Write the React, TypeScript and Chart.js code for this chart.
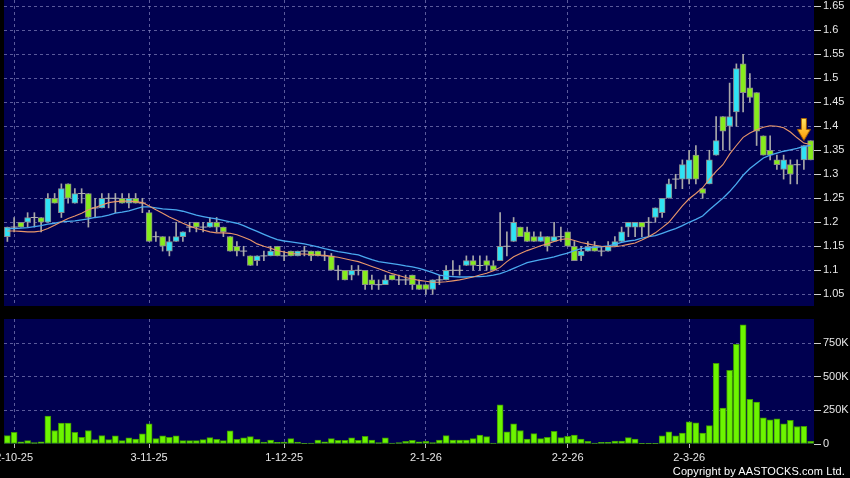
import React, { useEffect, useRef } from 'react';
import { Chart, registerables } from 'chart.js';

Chart.register(...registerables);

// ---------- data ----------
const opens = [
  1.17, 1.19, 1.20, 1.20, 1.21, 1.21, 1.20, 1.25, 1.22, 1.28,
  1.24, 1.26, 1.26, 1.23, 1.23, 1.25, 1.25, 1.25, 1.24, 1.25,
  1.24, 1.22, 1.17, 1.17, 1.14, 1.16, 1.17, 1.19, 1.20, 1.19,
  1.19, 1.20, 1.19, 1.17, 1.15, 1.14, 1.13, 1.12, 1.13, 1.13,
  1.15, 1.13, 1.14, 1.13, 1.14, 1.14, 1.14, 1.13, 1.13, 1.10,
  1.10, 1.09, 1.10, 1.10, 1.08, 1.07, 1.07, 1.09, 1.08, 1.08,
  1.09, 1.07, 1.07, 1.06, 1.08, 1.08, 1.10, 1.10, 1.11, 1.12,
  1.11, 1.12, 1.11, 1.12, 1.15, 1.16, 1.19, 1.18, 1.17, 1.16,
  1.17, 1.16, 1.17, 1.18, 1.15, 1.13, 1.14, 1.15, 1.14, 1.14,
  1.15, 1.16, 1.19, 1.19, 1.20, 1.20, 1.21, 1.22, 1.25, 1.29,
  1.29, 1.29, 1.34, 1.27, 1.28, 1.34, 1.42, 1.40, 1.43, 1.53,
  1.48, 1.47, 1.38, 1.35, 1.33, 1.31, 1.32, 1.32, 1.33, 1.37,
];
const highs = [
  1.19, 1.21, 1.20, 1.22, 1.22, 1.21, 1.26, 1.26, 1.28, 1.28,
  1.27, 1.27, 1.26, 1.25, 1.26, 1.26, 1.26, 1.26, 1.26, 1.26,
  1.25, 1.225, 1.18, 1.17, 1.17, 1.20, 1.18, 1.20, 1.20, 1.20,
  1.21, 1.21, 1.19, 1.17, 1.16, 1.15, 1.13, 1.13, 1.14, 1.15,
  1.15, 1.14, 1.14, 1.14, 1.15, 1.14, 1.14, 1.14, 1.135, 1.11,
  1.10, 1.11, 1.11, 1.10, 1.09, 1.08, 1.09, 1.09, 1.09, 1.09,
  1.09, 1.08, 1.07, 1.08, 1.09, 1.11, 1.12, 1.11, 1.13, 1.13,
  1.13, 1.13, 1.12, 1.22, 1.18, 1.21, 1.19, 1.19, 1.18, 1.18,
  1.17, 1.20, 1.19, 1.18, 1.16, 1.15, 1.16, 1.16, 1.15, 1.16,
  1.17, 1.19, 1.20, 1.20, 1.20, 1.21, 1.23, 1.25, 1.29, 1.30,
  1.33, 1.35, 1.36, 1.27, 1.35, 1.42, 1.42, 1.49, 1.53, 1.55,
  1.51, 1.47, 1.38, 1.38, 1.34, 1.34, 1.33, 1.33, 1.36, 1.37,
];
const lows = [
  1.16, 1.18, 1.19, 1.19, 1.19, 1.18, 1.20, 1.24, 1.21, 1.24,
  1.24, 1.24, 1.19, 1.21, 1.23, 1.23, 1.22, 1.24, 1.23, 1.24,
  1.22, 1.16, 1.16, 1.14, 1.13, 1.16, 1.16, 1.18, 1.18, 1.18,
  1.19, 1.18, 1.17, 1.14, 1.13, 1.13, 1.11, 1.11, 1.12, 1.13,
  1.13, 1.12, 1.13, 1.13, 1.13, 1.12, 1.13, 1.12, 1.10, 1.08,
  1.08, 1.08, 1.09, 1.06, 1.06, 1.06, 1.07, 1.08, 1.07, 1.07,
  1.06, 1.06, 1.05, 1.05, 1.07, 1.08, 1.09, 1.09, 1.11, 1.10,
  1.10, 1.10, 1.10, 1.12, 1.13, 1.16, 1.17, 1.16, 1.16, 1.16,
  1.14, 1.16, 1.16, 1.15, 1.12, 1.12, 1.14, 1.14, 1.13, 1.14,
  1.15, 1.16, 1.17, 1.17, 1.17, 1.17, 1.20, 1.21, 1.25, 1.27,
  1.27, 1.28, 1.28, 1.25, 1.28, 1.34, 1.35, 1.35, 1.40, 1.43,
  1.45, 1.36, 1.34, 1.33, 1.31, 1.29, 1.28, 1.28, 1.31, 1.33,
];
const closes = [
  1.19, 1.19, 1.19, 1.21, 1.21, 1.20, 1.25, 1.24, 1.27, 1.25,
  1.26, 1.26, 1.21, 1.23, 1.25, 1.25, 1.25, 1.24, 1.25, 1.24,
  1.24, 1.16, 1.17, 1.15, 1.16, 1.17, 1.18, 1.19, 1.19, 1.19,
  1.20, 1.19, 1.18, 1.14, 1.14, 1.14, 1.11, 1.13, 1.13, 1.14,
  1.13, 1.13, 1.13, 1.14, 1.14, 1.13, 1.13, 1.13, 1.10, 1.10,
  1.08, 1.10, 1.10, 1.07, 1.07, 1.07, 1.08, 1.08, 1.08, 1.08,
  1.07, 1.06, 1.06, 1.08, 1.08, 1.10, 1.10, 1.10, 1.12, 1.11,
  1.11, 1.11, 1.10, 1.15, 1.15, 1.20, 1.17, 1.16, 1.16, 1.17,
  1.15, 1.17, 1.17, 1.15, 1.12, 1.14, 1.15, 1.14, 1.14, 1.15,
  1.16, 1.18, 1.20, 1.20, 1.19, 1.20, 1.23, 1.25, 1.28, 1.29,
  1.32, 1.33, 1.29, 1.26, 1.33, 1.37, 1.39, 1.42, 1.52, 1.47,
  1.46, 1.39, 1.34, 1.34, 1.32, 1.33, 1.30, 1.32, 1.36, 1.33,
];
const volumes = [
  62000, 87000, 17000, 25000, 10000, 17000, 207000, 100000, 155000, 155000,
  87000, 50000, 100000, 32000, 62000, 32000, 60000, 25000, 45000, 37000,
  75000, 150000, 40000, 60000, 50000, 60000, 25000, 25000, 25000, 32000,
  47000, 35000, 25000, 97000, 35000, 45000, 55000, 35000, 15000, 30000,
  12000, 15000, 40000, 15000, 5000, 7000, 30000, 17000, 40000, 27000,
  27000, 45000, 27000, 57000, 30000, 10000, 45000, 7000, 10000, 20000,
  27000, 17000, 20000, 10000, 30000, 62000, 30000, 30000, 30000, 40000,
  67000, 55000, 7000, 292000, 90000, 150000, 100000, 37000, 77000, 40000,
  50000, 95000, 47000, 57000, 67000, 37000, 20000, 7000, 12000, 12000,
  22000, 22000, 47000, 37000, 2000, 5000, 5000, 60000, 90000, 60000,
  82000, 165000, 157000, 82000, 137000, 600000, 267000, 547000, 740000, 885000,
  332000, 312000, 195000, 180000, 187000, 150000, 175000, 130000, 132000, 20000,
];
const maShort = [
  1.182, 1.182, 1.181, 1.180, 1.180, 1.182, 1.187, 1.194, 1.201, 1.208,
  1.213, 1.219, 1.226, 1.231, 1.236, 1.241, 1.243, 1.244, 1.244, 1.243,
  1.241, 1.234, 1.226, 1.219, 1.211, 1.205, 1.198, 1.192, 1.187, 1.184,
  1.180, 1.178, 1.178, 1.177, 1.174, 1.169, 1.163, 1.155, 1.150, 1.146,
  1.141, 1.138, 1.135, 1.134, 1.134, 1.133, 1.132, 1.131, 1.129, 1.127,
  1.124, 1.121, 1.118, 1.113, 1.108, 1.103, 1.098, 1.093, 1.089, 1.085,
  1.082, 1.079, 1.077, 1.075, 1.075, 1.076, 1.078, 1.080, 1.083, 1.086,
  1.090, 1.094, 1.099, 1.106, 1.118, 1.128, 1.135, 1.141, 1.146, 1.151,
  1.155, 1.160, 1.164, 1.166, 1.162, 1.158, 1.155, 1.152, 1.150, 1.149,
  1.149, 1.151, 1.154, 1.157, 1.163, 1.170, 1.178, 1.189, 1.200, 1.217,
  1.234, 1.249, 1.260, 1.272, 1.290, 1.306, 1.320, 1.342, 1.360, 1.377,
  1.386, 1.393, 1.398, 1.401, 1.400, 1.397, 1.388, 1.376, 1.365, 1.362,
];
const maLong = [
  1.187, 1.187, 1.188, 1.189, 1.191, 1.193, 1.196, 1.198, 1.201, 1.202,
  1.203, 1.205, 1.207, 1.210, 1.212, 1.215, 1.219, 1.221, 1.224, 1.228,
  1.232, 1.232, 1.230, 1.228, 1.227, 1.226, 1.223, 1.219, 1.215, 1.212,
  1.209, 1.207, 1.204, 1.201, 1.198, 1.193, 1.187, 1.181, 1.175, 1.169,
  1.164, 1.161, 1.159, 1.157, 1.155, 1.152, 1.149, 1.145, 1.142, 1.139,
  1.137, 1.134, 1.132, 1.127, 1.122, 1.118, 1.116, 1.114, 1.112, 1.109,
  1.107, 1.104, 1.100, 1.095, 1.090, 1.088, 1.087, 1.086, 1.086, 1.087,
  1.087, 1.088, 1.090, 1.093, 1.098, 1.104, 1.110, 1.116, 1.119, 1.122,
  1.125, 1.128, 1.132, 1.136, 1.141, 1.145, 1.147, 1.148, 1.149, 1.151,
  1.154, 1.158, 1.161, 1.163, 1.167, 1.170, 1.172, 1.177, 1.182, 1.187,
  1.193, 1.200, 1.206, 1.213, 1.226, 1.238, 1.250, 1.264, 1.280, 1.298,
  1.312, 1.323, 1.334, 1.340, 1.344, 1.348, 1.351, 1.354, 1.358, 1.360,
];

const priceTickValues = [1.05, 1.1, 1.15, 1.2, 1.25, 1.3, 1.35, 1.4, 1.45, 1.5, 1.55, 1.6, 1.65];
const priceTickLabels = ['1.05', '1.1', '1.15', '1.2', '1.25', '1.3', '1.35', '1.4', '1.45', '1.5', '1.55', '1.6', '1.65'];
const volTickValues = [0, 250000, 500000, 750000];
const volTickLabels = ['0', '250K', '500K', '750K'];
const dateTickIndex = [1, 21, 41, 62, 83, 101];
const dateTickLabels = ['2-10-25', '3-11-25', '1-12-25', '2-1-26', '2-2-26', '2-3-26'];
const priceMin = 1.0256;
const priceMax = 1.6631;
const volMax = 929000;
const arrowIndex = 118;
const arrowPrice = 1.3935;

// ---------- styles ----------
const NAVY = '#000050';
const GRID = 'rgba(150,150,205,0.6)';
const UP = '#2fe3f5';
const DOWN = '#86ec1c';
const EDGE = '#8c8c8c';
const WICK = '#a8a8a8';
const FONT = "'Liberation Sans', Arial, sans-serif";
const LABEL = '#e6e6e6';

const categories = opens.map((_, i) => String(i));
const isTickIdx = (i: number) => dateTickIndex.includes(i);

const panelBg = {
  id: 'panelBg',
  beforeDraw(chart: any) {
    const { ctx, chartArea: a } = chart;
    ctx.save();
    ctx.fillStyle = NAVY;
    ctx.fillRect(a.left, a.top, a.right - a.left, a.bottom - a.top);
    ctx.restore();
  },
};

function makeArrow() {
  const c = document.createElement('canvas');
  c.width = 14;
  c.height = 23;
  const g = c.getContext('2d')!;
  const grad = g.createLinearGradient(0, 0, 0, 23);
  grad.addColorStop(0, '#ffe866');
  grad.addColorStop(1, '#ff9800');
  g.fillStyle = grad;
  g.strokeStyle = '#a86000';
  g.lineWidth = 1;
  g.beginPath();
  g.moveTo(4.5, 0.5);
  g.lineTo(9.5, 0.5);
  g.lineTo(9.5, 11.5);
  g.lineTo(13.5, 11.5);
  g.lineTo(7, 22.5);
  g.lineTo(0.5, 11.5);
  g.lineTo(4.5, 11.5);
  g.closePath();
  g.fill();
  g.stroke();
  return c;
}

function xAxis(showLabels: boolean) {
  return {
    type: 'category',
    offset: true,
    grid: {
      offset: false,
      color: (c: any) => (isTickIdx(c.index) ? GRID : 'rgba(0,0,0,0)'),
      lineWidth: 1,
      drawTicks: showLabels,
      tickLength: 4,
      tickColor: (c: any) => (isTickIdx(c.index) ? '#bbbbbb' : 'rgba(0,0,0,0)'),
    },
    border: { display: false, dash: [3, 3] },
    ticks: {
      display: showLabels,
      autoSkip: false,
      maxRotation: 0,
      minRotation: 0,
      padding: 3,
      color: LABEL,
      font: { family: FONT, size: 11 },
      callback: (_v: any, i: number) => {
        const k = dateTickIndex.indexOf(i);
        return k >= 0 ? dateTickLabels[k] : '';
      },
    },
    afterFit: (s: any) => {
      s.height = showLabels ? 34 : 0;
      s.paddingLeft = 0;
      s.paddingRight = 0;
    },
  };
}

export default function App() {
  const priceRef = useRef<HTMLCanvasElement>(null);
  const volRef = useRef<HTMLCanvasElement>(null);

  useEffect(() => {
    const arrow = makeArrow();
    const bodyColors = opens.map((o, i) => (closes[i] > o ? UP : DOWN));
    const bodies = opens.map((o, i) => (o === closes[i] ? null : [o, closes[i]]));
    const dojis = opens.map((o, i) => (o === closes[i] ? closes[i] : null));
    const wicks = lows.map((l, i) => [l, highs[i]]);
    const arrowData = opens.map((_, i) => (i === arrowIndex ? arrowPrice : null));

    const c1 = new Chart(priceRef.current!, {
      type: 'bar',
      data: {
        labels: categories,
        datasets: [
          { type: 'bar', data: wicks as any, backgroundColor: WICK, barThickness: 1, grouped: false, order: 6, borderWidth: 0 } as any,
          {
            type: 'bar', data: bodies as any, backgroundColor: bodyColors, borderColor: EDGE, borderWidth: 1,
            borderSkipped: false, barThickness: 6, grouped: false, order: 5,
          } as any,
          {
            type: 'line', data: dojis, showLine: false, pointStyle: 'line', pointRadius: 3.5,
            borderColor: '#b4b4b4', pointBorderColor: '#b4b4b4', pointBorderWidth: 1, order: 4,
          } as any,
          { type: 'line', data: maLong, borderColor: '#4aa9ef', borderWidth: 1.3, pointRadius: 0, tension: 0, order: 3 } as any,
          { type: 'line', data: maShort, borderColor: '#e8966a', borderWidth: 1.1, pointRadius: 0, tension: 0, order: 2 } as any,
          { type: 'line', data: arrowData, showLine: false, pointStyle: arrow, pointRadius: 6, order: 1 } as any,
        ],
      },
      options: {
        responsive: false,
        animation: false,
        devicePixelRatio: 1,
        events: [],
        layout: { autoPadding: false, padding: { left: 4, right: 0, top: 0, bottom: 0 } },
        plugins: { legend: { display: false }, tooltip: { enabled: false } },
        scales: {
          x: xAxis(false) as any,
          y: {
            position: 'right',
            min: priceMin,
            max: priceMax,
            afterBuildTicks: (s: any) => {
              s.ticks = priceTickValues.map((v) => ({ value: v }));
            },
            afterFit: (s: any) => {
              s.width = 36;
              s.paddingTop = 0;
              s.paddingBottom = 0;
            },
            grid: { color: GRID, lineWidth: 1, tickLength: 7, tickColor: '#cfcfcf', tickWidth: 1 },
            border: { display: false, dash: [3, 3] },
            ticks: {
              padding: 2,
              color: LABEL,
              font: { family: FONT, size: 11 },
              callback: (_v: any, i: number) => priceTickLabels[i],
            },
          } as any,
        },
      },
      plugins: [panelBg],
    });

    const c2 = new Chart(volRef.current!, {
      type: 'bar',
      data: {
        labels: categories,
        datasets: [
          {
            data: volumes, backgroundColor: '#6cf500', borderColor: '#3f9a00', borderWidth: 1,
            borderSkipped: false, barThickness: 6,
          } as any,
        ],
      },
      options: {
        responsive: false,
        animation: false,
        devicePixelRatio: 1,
        events: [],
        layout: { autoPadding: false, padding: { left: 4, right: 0, top: 13, bottom: 0 } },
        plugins: { legend: { display: false }, tooltip: { enabled: false } },
        scales: {
          x: xAxis(true) as any,
          y: {
            position: 'right',
            min: 0,
            max: volMax,
            afterBuildTicks: (s: any) => {
              s.ticks = volTickValues.map((v) => ({ value: v }));
            },
            afterFit: (s: any) => {
              s.width = 36;
              s.paddingTop = 0;
              s.paddingBottom = 0;
            },
            grid: {
              color: (c: any) => (c.tick && c.tick.value === 0 ? 'rgba(0,0,0,0)' : GRID),
              lineWidth: 1,
              tickLength: 7,
              tickColor: '#cfcfcf',
              tickWidth: 1,
            },
            border: { display: false, dash: [3, 3] },
            ticks: {
              padding: 2,
              color: LABEL,
              font: { family: FONT, size: 11 },
              callback: (_v: any, i: number) => volTickLabels[i],
            },
          } as any,
        },
      },
      plugins: [panelBg],
    });

    return () => {
      c1.destroy();
      c2.destroy();
    };
  }, []);

  return (
    <div style={{ position: 'fixed', left: 0, top: 0, width: 850, height: 478, background: '#000', overflow: 'hidden' }}>
      <canvas ref={priceRef} width={850} height={306} style={{ position: 'absolute', left: 0, top: 0 }} />
      <canvas ref={volRef} width={850} height={172} style={{ position: 'absolute', left: 0, top: 306 }} />
      <div
        style={{
          position: 'absolute', right: 5, top: 465, color: '#ffffff', fontFamily: FONT, fontSize: 11,
          lineHeight: '12px', letterSpacing: '0.1px', whiteSpace: 'nowrap',
        }}
      >
        Copyright by AASTOCKS.com Ltd.
      </div>
    </div>
  );
}
